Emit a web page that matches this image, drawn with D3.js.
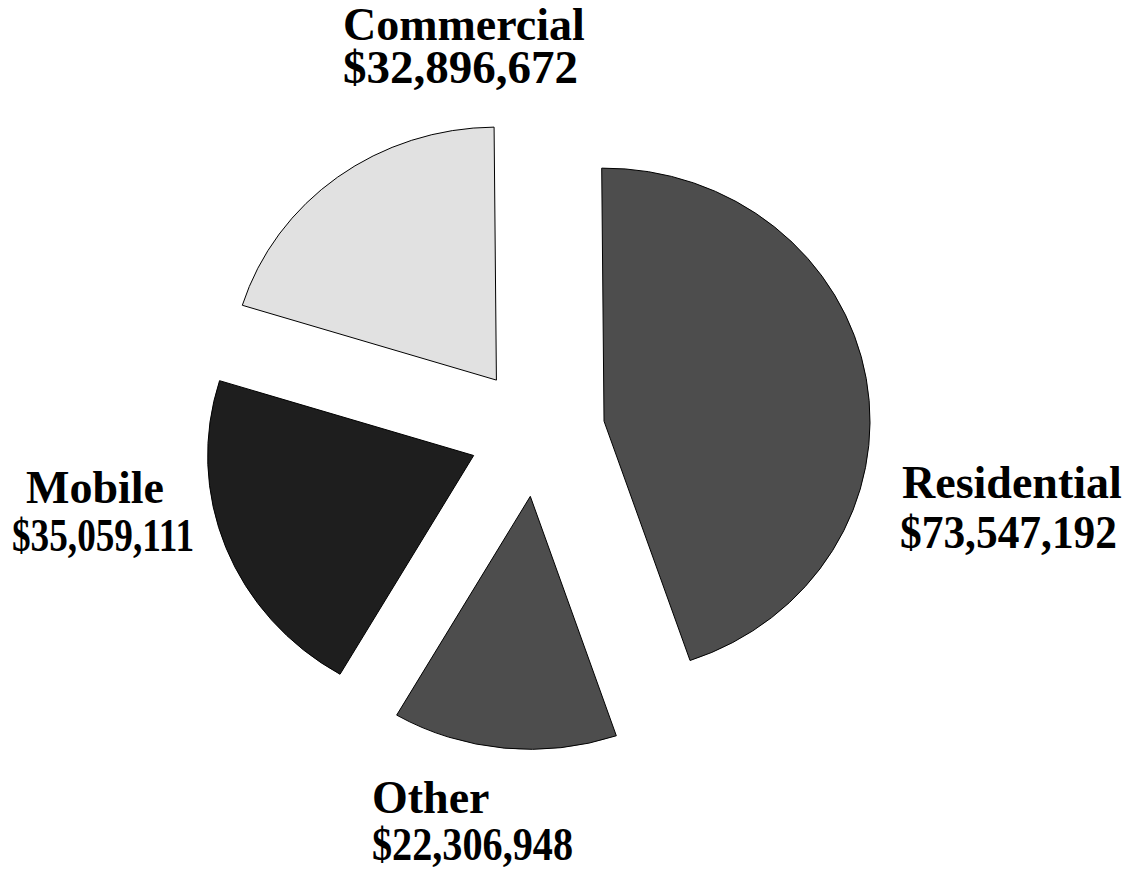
<!DOCTYPE html>
<html lang="en">
<head>
    <meta charset="UTF-8">
    <title>Revenue by Segment</title>
    <script src="https://d3js.org/d3.v7.min.js"></script>
    <style>
        body { margin: 0; background: #ffffff; }
        text { font-family: "Liberation Serif", "Times New Roman", serif; font-weight: bold; }
    </style>
</head>
<body>
<div id="myDiv"></div>
<script>
// chart data
const categories = ["Residential", "Other", "Mobile", "Commercial"];
const values = [73547192, 22306948, 35059111, 32896672];
const fills = ["#4d4d4d", "#4d4d4d", "#1e1e1e", "#e1e1e1"];

// label layout (left x, baseline of name, baseline of value, value width)
const labelX = [902, 372, 26, 343];
const nameY = [498, 813, 503, 40];
const valueX = [900, 372, 12, 343];
const valueY = [548, 860, 551, 83];
const valueW = [217, 201, 182, 235];

const width = 1133, height = 869;
const cx = 537, cy = 432;
const rx = 266, ry = 253;
const explode = 68;
const start = -0.5 * Math.PI / 180;

let svg = d3.select("#myDiv").append("svg")
    .attr("width", width)
    .attr("height", height);

let pie = d3.pie()
    .sort(null)
    .startAngle(start)
    .endAngle(start + 2 * Math.PI)
    .value(function (d) { return d; });

let arc = d3.arc()
    .innerRadius(0)
    .outerRadius(rx);

let slices = pie(values);

// slices, pulled out along their middle angle (pie is a bit flattened)
svg.selectAll("path")
    .data(slices)
    .enter()
    .append("path")
        .attr("transform", function (d) {
            let mid = (d.startAngle + d.endAngle) / 2;
            let x = cx + explode * Math.sin(mid);
            let y = cy - explode * Math.cos(mid) * ry / rx;
            return "translate(" + x + "," + y + ") scale(1," + (ry / rx) + ")";
        })
        .attr("d", arc)
        .attr("fill", function (d, i) { return fills[i]; })
        .attr("stroke", "#000")
        .attr("stroke-width", 1)
        .attr("vector-effect", "non-scaling-stroke");

let fmt = d3.format(",");

// labels
svg.selectAll("text.name")
    .data(categories)
    .enter()
    .append("text")
        .attr("class", "name")
        .attr("x", function (d, i) { return labelX[i]; })
        .attr("y", function (d, i) { return nameY[i]; })
        .attr("font-size", "46px")
        .attr("fill", "#000")
        .text(function (d) { return d; });

svg.selectAll("text.value")
    .data(values)
    .enter()
    .append("text")
        .attr("class", "value")
        .attr("x", function (d, i) { return valueX[i]; })
        .attr("y", function (d, i) { return valueY[i]; })
        .attr("font-size", "46px")
        .attr("fill", "#000")
        .attr("textLength", function (d, i) { return valueW[i]; })
        .attr("lengthAdjust", "spacingAndGlyphs")
        .text(function (d) { return "$" + fmt(d); });
</script>
</body>
</html>
